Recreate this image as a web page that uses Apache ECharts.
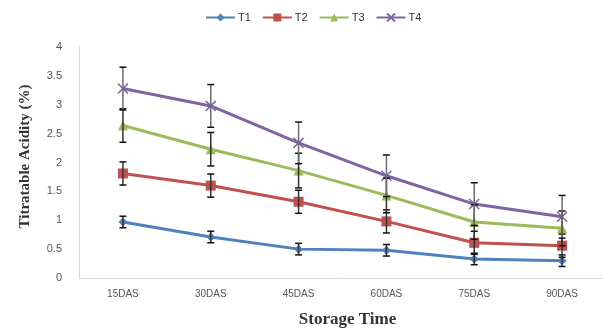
<!DOCTYPE html>
<html>
<head>
<meta charset="utf-8">
<script src="https://cdn.jsdelivr.net/npm/echarts@6/dist/echarts.min.js"></script>
<style>
html,body{margin:0;padding:0;background:#fff;}
#chart{width:603px;height:332px;}
</style>
</head>
<body>
<div id="chart"></div>
<script>
var categories = ['15DAS', '30DAS', '45DAS', '60DAS', '75DAS', '90DAS'];
var seriesNames = ['T1', 'T2', 'T3', 'T4'];
var t1 = [0.97, 0.71, 0.50, 0.48, 0.33, 0.30];
var t2 = [1.81, 1.60, 1.32, 0.98, 0.61, 0.56];
var t3 = [2.64, 2.23, 1.86, 1.43, 0.97, 0.86];
var t4 = [3.28, 2.98, 2.34, 1.77, 1.28, 1.06];
var e1 = [0.10, 0.10, 0.10, 0.10, 0.10, 0.10];
var e2 = [0.20, 0.20, 0.20, 0.20, 0.20, 0.20];
var e3 = [0.29, 0.29, 0.30, 0.30, 0.30, 0.30];
var e4 = [0.37, 0.37, 0.36, 0.36, 0.37, 0.37];
var yTicks = [0, 0.5, 1, 1.5, 2, 2.5, 3, 3.5, 4];

var colors = ['#4F81BD', '#C0504D', '#9BBB59', '#8064A2'];
var errColors = ['#333333', '#333333', '#333333', '#6b6b6b'];
var values = [t1, t2, t3, t4];
var errs = [e1, e2, e3, e4];
var symbols = ['diamond', 'rect', 'triangle', 'path://M0,0 L10,10 M10,0 L0,10'];
var symbolSizes = [9, 10, 10, 10];

var chart = echarts.init(document.getElementById('chart'));
var series = [];
values.forEach(function (vals, i) {
  series.push({
    name: seriesNames[i],
    type: 'line',
    data: vals,
    symbol: symbols[i],
    symbolSize: symbolSizes[i],
    lineStyle: { color: colors[i], width: 3 },
    itemStyle: i === 3 ? { color: colors[i], borderColor: colors[i], borderWidth: 1.5 } : { color: colors[i], borderWidth: 0 },
    z: 2
  });
});
errs.forEach(function (ev, i) {
  series.push({
    name: seriesNames[i] + ' err',
    type: 'custom',
    z: 3,
    data: values[i].map(function (v, k) { return [k, v - ev[k], v + ev[k]]; }),
    renderItem: function (params, api) {
      var lo = api.coord([api.value(0), api.value(1)]);
      var hi = api.coord([api.value(0), api.value(2)]);
      var hw = 3.5;
      var st = { stroke: errColors[i], lineWidth: 1.5 };
      return {
        type: 'group',
        children: [
          { type: 'line', shape: { x1: lo[0], y1: lo[1], x2: hi[0], y2: hi[1] }, style: st },
          { type: 'line', shape: { x1: lo[0] - hw, y1: lo[1], x2: lo[0] + hw, y2: lo[1] }, style: { stroke: '#111', lineWidth: 1.5 } },
          { type: 'line', shape: { x1: hi[0] - hw, y1: hi[1], x2: hi[0] + hw, y2: hi[1] }, style: { stroke: '#111', lineWidth: 1.5 } }
        ]
      };
    },
    encode: { x: 0, y: [1, 2] },
    silent: true
  });
});

chart.setOption({
  animation: false,
  backgroundColor: '#fff',
  legend: {
    data: seriesNames,
    top: 7,
    left: 200,
    itemWidth: 29,
    itemHeight: 10,
    itemGap: 11,
    textStyle: { fontFamily: 'Liberation Sans', fontSize: 11, color: '#333', padding: [0, 0, 0, -2] }
  },
  grid: { left: 79, top: 47, bottom: 54, width: 527, outerBoundsMode: 'none', containLabel: false },
  xAxis: {
    type: 'category',
    data: categories,
    boundaryGap: true,
    axisLine: { lineStyle: { color: '#d9d9d9', width: 1 } },
    axisTick: { show: false },
    axisLabel: { fontFamily: 'Liberation Sans', fontSize: 10, color: '#555', margin: 11 },
    name: 'Storage Time',
    nameLocation: 'middle',
    nameGap: 33,
    nameTextStyle: { fontFamily: 'Liberation Serif', fontWeight: 'bold', fontSize: 17, color: '#333', padding: [0, 0, 0, 10] }
  },
  yAxis: {
    type: 'value',
    min: yTicks[0],
    max: yTicks[yTicks.length - 1],
    interval: 0.5,
    splitLine: { show: false },
    axisLine: { show: true, lineStyle: { color: '#d9d9d9', width: 1 } },
    axisTick: { show: false },
    axisLabel: { fontFamily: 'Liberation Sans', fontSize: 11, color: '#555', margin: 17 },
    name: 'Titratable Acidity (%)',
    nameLocation: 'middle',
    nameGap: 46,
    nameTextStyle: { fontFamily: 'Liberation Serif', fontWeight: 'bold', fontSize: 15, color: '#333', padding: [0, 0, 0, 12] }
  },
  series: series
});
</script>
</body>
</html>
